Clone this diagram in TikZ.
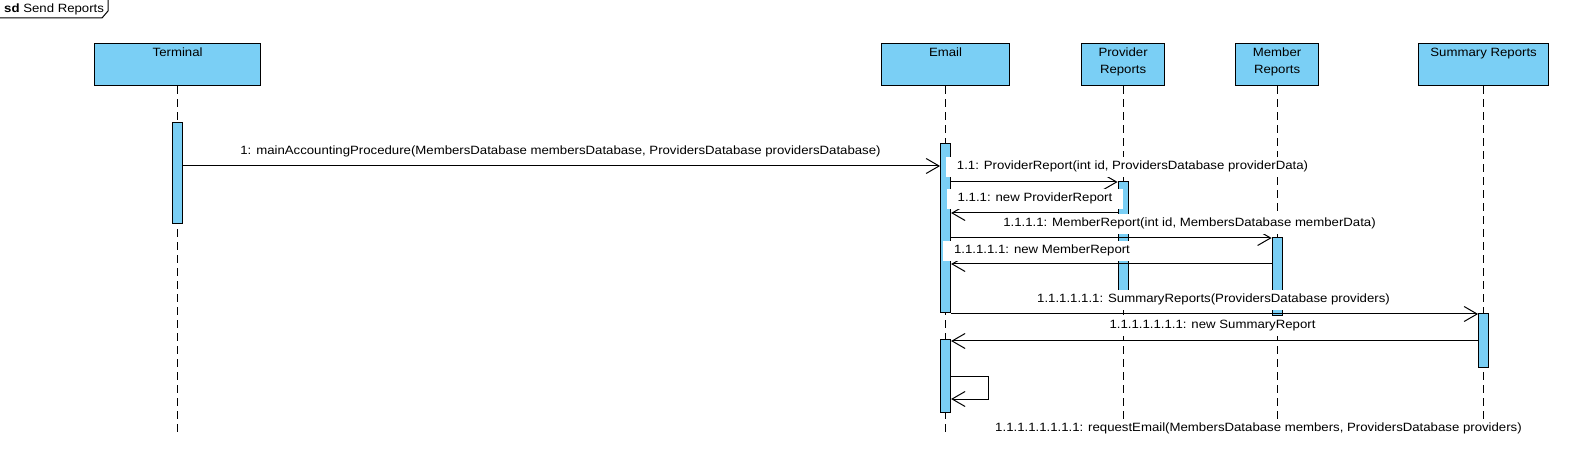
\documentclass[tikz,border=0pt]{standalone}
\usepackage{fontspec}
\setmainfont{Liberation Sans}[FakeStretch=1.1]
\usetikzlibrary{arrows.meta}
\definecolor{boxblue}{RGB}{122,207,245}
\begin{document}
\begin{tikzpicture}[x=1pt,y=-1pt,
  lifebox/.style={draw, line width=1.2pt, fill=boxblue, inner sep=0pt, anchor=north west, minimum height=42pt},
  headtext/.style={anchor=north, align=center, inner sep=0pt, font=\fontsize{12}{16.6}\selectfont},
  lifeline/.style={line width=0.9pt, dash pattern=on 8pt off 5pt},
  actbar/.style={draw, line width=1pt, fill=boxblue, inner sep=0pt, minimum width=10pt, anchor=north},
  msg/.style={line width=1pt, -{Straight Barb[length=13pt,width=15pt,line width=1pt]}},
  msglabel/.style={fill=white, anchor=base, inner xsep=11pt, inner ysep=3.5pt, text height=9pt, text depth=4pt, font=\fontsize{12}{14}\selectfont}
]
\useasboundingbox (0,0) rectangle (1580,470);

% frame tab
\draw[line width=1pt] (0,18) -- (102,18) -- (108,11) -- (108,0);
\node[anchor=base west, inner sep=0pt, font=\fontsize{12}{14}\selectfont] (sdlabel) at (4,13) {\textbf{sd} Send Reports};

% lifeline heads
\node[lifebox, minimum width=166pt] (term) at (94,43) {};
\node[lifebox, minimum width=128pt] (email) at (881,43) {};
\node[lifebox, minimum width=83pt] (prov) at (1081,43) {};
\node[lifebox, minimum width=83pt] (memb) at (1235,43) {};
\node[lifebox, minimum width=130pt] (summ) at (1418,43) {};

\node[headtext] (termT) at ([yshift=-5pt]term.north) {Terminal};
\node[headtext] (emailT) at ([yshift=-5pt]email.north) {Email};
\node[headtext] (provT) at ([yshift=-5pt]prov.north) {Provider\\Reports};
\node[headtext] (membT) at ([yshift=-5pt]memb.north) {Member\\Reports};
\node[headtext] (summT) at ([yshift=-5pt]summ.north) {Summary Reports};

% lifelines
\coordinate (termEnd) at (term.south |- 0,435);
\coordinate (emailEnd) at (email.south |- 0,435);
\coordinate (provEnd) at (prov.south |- 0,435);
\coordinate (membEnd) at (memb.south |- 0,435);
\coordinate (summEnd) at (summ.south |- 0,435);
\draw[lifeline] (term.south) -- (termEnd);
\draw[lifeline] (email.south) -- (emailEnd);
\draw[lifeline] (prov.south) -- (provEnd);
\draw[lifeline] (memb.south) -- (membEnd);
\draw[lifeline] (summ.south) -- (summEnd);

% activation bars
\node[actbar, minimum height=101pt] (actT) at (term.south |- 0,122) {};
\node[actbar, minimum height=169pt] (actE1) at (email.south |- 0,143) {};
\node[actbar, minimum height=119pt] (actP) at (prov.south |- 0,181) {};
\node[actbar, minimum height=78pt] (actM) at (memb.south |- 0,237) {};
\node[actbar, minimum height=54pt] (actS) at (summ.south |- 0,313) {};
\node[actbar, minimum height=73pt] (actE2) at (email.south |- 0,339) {};

% messages
\draw[msg] (actT.east |- 0,166) -- (actE1.west |- 0,166);
\draw[msg] (actE1.east |- 0,182) -- (actP.west |- 0,182);
\draw[msg] (actP.west |- 0,213) -- (actE1.east |- 0,213);
\draw[msg] (actE1.east |- 0,238) -- (actM.west |- 0,238);
\draw[msg] (actM.west |- 0,264) -- (actE1.east |- 0,264);
\draw[msg] (actE1.east |- 0,314) -- (actS.west |- 0,314);
\draw[msg] (actS.west |- 0,341) -- (actE2.east |- 0,341);
\coordinate (selfA) at ([xshift=37pt]actE2.east |- 0,376);
\coordinate (selfB) at ([xshift=37pt]actE2.east |- 0,399);
\draw[msg] (actE2.east |- 0,376) -- (selfA) -- (selfB) -- (actE2.east |- 0,399);

% message labels
\node[msglabel] (l1) at (560.5,155) {1: mainAccountingProcedure(MembersDatabase membersDatabase, ProvidersDatabase providersDatabase)};
\node[msglabel] (l11) at (1132.5,170) {1.1: ProviderReport(int id, ProvidersDatabase providerData)};
\node[msglabel] (l111) at (1035,202) {1.1.1: new ProviderReport};
\node[msglabel] (l1111) at (1189.5,227) {1.1.1.1: MemberReport(int id, MembersDatabase memberData)};
\node[msglabel] (l11111) at (1042,254) {1.1.1.1.1: new MemberReport};
\node[msglabel] (l6) at (1213.5,303) {1.1.1.1.1.1: SummaryReports(ProvidersDatabase providers)};
\node[msglabel] (l7) at (1212.5,329) {1.1.1.1.1.1.1: new SummaryReport};
\node[msglabel] (l8) at (1258.5,431) {1.1.1.1.1.1.1.1: requestEmail(MembersDatabase members, ProvidersDatabase providers)};
\end{tikzpicture}
\end{document}
